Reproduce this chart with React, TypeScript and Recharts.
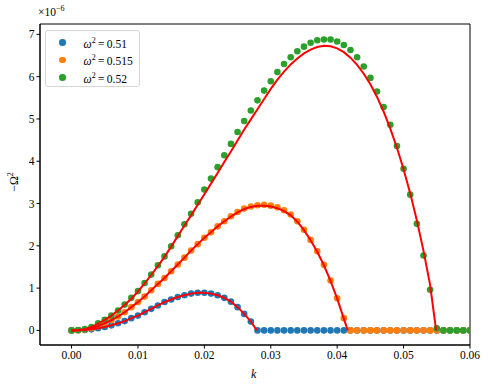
import {
  ComposedChart,
  Scatter,
  XAxis,
  YAxis,
  ReferenceArea,
} from "recharts";

// k grid (step 0.001)
const kGrid = [
  0, 0.001, 0.002, 0.003, 0.004, 0.005, 0.006, 0.007, 0.008, 0.009,
  0.01, 0.011, 0.012, 0.013, 0.014, 0.015, 0.016, 0.017, 0.018, 0.019,
  0.02, 0.021, 0.022, 0.023, 0.024, 0.025, 0.026, 0.027, 0.028, 0.029,
  0.03, 0.031, 0.032, 0.033, 0.034, 0.035, 0.036, 0.037, 0.038, 0.039,
  0.04, 0.041, 0.042, 0.043, 0.044, 0.045, 0.046, 0.047, 0.048, 0.049,
  0.05, 0.051, 0.052, 0.053, 0.054, 0.055, 0.056, 0.057, 0.058, 0.059,
  0.06,
];

// -Omega^2 (x1e-6), numerical points
const blueVals = [
  0, 0.003, 0.01, 0.025, 0.05, 0.08, 0.12, 0.17, 0.22, 0.29,
  0.35, 0.43, 0.51, 0.59, 0.67, 0.73, 0.79, 0.83, 0.87, 0.89,
  0.89, 0.87, 0.83, 0.77, 0.68, 0.55, 0.39, 0.21, 0, 0,
  0, 0, 0, 0, 0, 0, 0, 0, 0, 0,
  0, 0, 0, 0, 0, 0, 0, 0, 0, 0,
  0, 0, 0, 0, 0, 0, 0, 0, 0, 0,
  0,
];
const orangeVals = [
  0, 0.005, 0.02, 0.05, 0.1, 0.17, 0.24, 0.33, 0.43, 0.55,
  0.67, 0.8, 0.95, 1.1, 1.24, 1.4, 1.56, 1.72, 1.89, 2.04,
  2.19, 2.32, 2.46, 2.58, 2.7, 2.8, 2.88, 2.93, 2.96, 2.97,
  2.95, 2.91, 2.84, 2.74, 2.58, 2.38, 2.14, 1.87, 1.55, 1.18,
  0.76, 0.29, 0, 0, 0, 0, 0, 0, 0, 0,
  0, 0, 0, 0, 0, 0, 0, 0, 0, 0,
  0,
];
const greenVals = [
  0, 0.01, 0.03, 0.08, 0.17, 0.25, 0.35, 0.47, 0.61, 0.77,
  0.93, 1.12, 1.32, 1.54, 1.75, 1.99, 2.25, 2.51, 2.76, 3.03,
  3.33, 3.59, 3.86, 4.14, 4.41, 4.69, 4.95, 5.2, 5.44, 5.67,
  5.89, 6.11, 6.3, 6.46, 6.6, 6.71, 6.8, 6.86, 6.88, 6.88,
  6.83, 6.75, 6.63, 6.46, 6.24, 5.97, 5.65, 5.28, 4.86, 4.36,
  3.82, 3.21, 2.52, 1.77, 0.96, 0.05, 0, 0, 0, 0,
  0,
];

// analytic curves (red), on the same grid up to where they hit zero
const blueFit = [
  0, 0.003, 0.01, 0.025, 0.05, 0.08, 0.12, 0.17, 0.22, 0.29,
  0.35, 0.43, 0.51, 0.59, 0.67, 0.73, 0.79, 0.83, 0.87, 0.89,
  0.89, 0.87, 0.83, 0.77, 0.68, 0.55, 0.39, 0.21,
];
const blueFitEnd = 0.0279;
const orangeFit = [
  0, 0.005, 0.02, 0.05, 0.1, 0.17, 0.24, 0.33, 0.43, 0.55,
  0.67, 0.8, 0.95, 1.1, 1.24, 1.4, 1.56, 1.72, 1.89, 2.04,
  2.19, 2.32, 2.46, 2.58, 2.69, 2.79, 2.87, 2.92, 2.95, 2.95,
  2.93, 2.89, 2.82, 2.72, 2.57, 2.37, 2.13, 1.86, 1.54, 1.17,
  0.75, 0.28,
];
const orangeFitEnd = 0.0416;
const greenFit = [
  0, 0.01, 0.03, 0.08, 0.16, 0.25, 0.35, 0.47, 0.6, 0.75,
  0.92, 1.11, 1.31, 1.52, 1.74, 1.98, 2.23, 2.48, 2.72, 2.97,
  3.22, 3.47, 3.72, 3.98, 4.23, 4.49, 4.75, 4.99, 5.23, 5.47,
  5.71, 5.93, 6.12, 6.29, 6.43, 6.55, 6.64, 6.7, 6.73, 6.72,
  6.67, 6.58, 6.45, 6.28, 6.07, 5.82, 5.52, 5.17, 4.77, 4.32,
  3.81, 3.24, 2.6, 1.88, 1.07,
];
const greenFitEnd = 0.0549;

const xTicks = [0, 0.01, 0.02, 0.03, 0.04, 0.05, 0.06];
const yTicks = [0, 1, 2, 3, 4, 5, 6, 7];
const xDomain = [-0.00475, 0.06];
const yDomain = [-0.345, 7.245];

const series = [
  { label: "0.51", color: "#1f77b4", vals: blueVals },
  { label: "0.515", color: "#ff7f0e", vals: orangeVals },
  { label: "0.52", color: "#2ca02c", vals: greenVals },
];

const fits = [
  { vals: blueFit, end: blueFitEnd },
  { vals: orangeFit, end: orangeFitEnd },
  { vals: greenFit, end: greenFitEnd },
];

const toPoints = (vals: number[]) => vals.map((v, i) => ({ k: kGrid[i], v }));
const toFit = (vals: number[], end: number) =>
  toPoints(vals).concat([{ k: end, v: 0 }]);

const FONT = "'Liberation Serif', 'Times New Roman', serif";
const tickStyle = { fill: "#000", fontSize: 11.5, fontFamily: FONT };

const Dot = (color: string) => (p: any) =>
  <circle cx={p.cx} cy={p.cy} r={3.3} fill={color} />;

const NoDot = () => <g />;

const App = () => {
  return (
    <div
      style={{
        position: "absolute",
        left: 0,
        top: 0,
        width: 489,
        height: 389,
        background: "#fff",
        fontFamily: FONT,
      }}
    >
      <ComposedChart
        width={489}
        height={389}
        margin={{ top: 24, right: 19, bottom: 0, left: 0 }}
        style={{ fontFamily: FONT }}
      >
        <XAxis
          dataKey="k"
          type="number"
          domain={xDomain}
          ticks={xTicks}
          allowDataOverflow
          tickFormatter={(v: number) => v.toFixed(2)}
          tick={tickStyle}
          tickSize={3.5}
          tickLine={{ stroke: "#000" }}
          axisLine={{ stroke: "#000" }}
          height={44}
        />
        <YAxis
          type="number"
          domain={yDomain}
          ticks={yTicks}
          allowDataOverflow
          tick={tickStyle}
          tickSize={3.5}
          tickLine={{ stroke: "#000" }}
          axisLine={{ stroke: "#000" }}
          width={40}
        />
        {series.map((s) => (
          <Scatter
            key={s.label}
            data={toPoints(s.vals)}
            dataKey="v"
            fill={s.color}
            shape={Dot(s.color)}
            isAnimationActive={false}
          />
        ))}
        {/* red analytic curves, drawn over the points */}
        {fits.map((f, i) => (
          <Scatter
            key={"fit" + i}
            data={toFit(f.vals, f.end)}
            dataKey="v"
            fill="#ff0000"
            line={{ stroke: "#ff0000", strokeWidth: 2, fill: "none" }}
            lineType="joint"
            shape={NoDot}
            isAnimationActive={false}
          />
        ))}
        <ReferenceArea
          x1={xDomain[0]}
          x2={xDomain[1]}
          y1={yDomain[0]}
          y2={yDomain[1]}
          fill="none"
          fillOpacity={0}
          stroke="#000"
          strokeWidth={1}
        />
      </ComposedChart>

      {/* offset text */}
      <div style={{ position: "absolute", left: 38, top: 4, fontSize: 11.5 }}>
        ×10<sup style={{ fontSize: 8 }}>−6</sup>
      </div>

      {/* y label */}
      <div
        style={{
          position: "absolute",
          left: 14,
          top: 182,
          fontSize: 12,
          transform: "translate(-50%, -50%) rotate(-90deg)",
          whiteSpace: "nowrap",
        }}
      >
        −Ω<sup style={{ fontSize: 8 }}>2</sup>
      </div>

      {/* x label */}
      <div
        style={{
          position: "absolute",
          left: 251,
          top: 367,
          fontSize: 12,
          fontStyle: "italic",
        }}
      >
        k
      </div>

      {/* legend */}
      <div
        style={{
          position: "absolute",
          left: 45,
          top: 30,
          width: 95,
          height: 57,
          border: "1px solid #d6d6d6",
          borderRadius: 3,
          background: "rgba(255,255,255,0.8)",
          boxSizing: "border-box",
        }}
      >
        {series.map((s, i) => (
          <div
            key={s.label}
            style={{
              position: "absolute",
              left: 0,
              top: 3 + i * 17.5,
              height: 17,
              display: "flex",
              alignItems: "center",
              fontSize: 11.5,
              whiteSpace: "nowrap",
            }}
          >
            <span
              style={{
                display: "inline-block",
                width: 6.6,
                height: 6.6,
                borderRadius: "50%",
                background: s.color,
                marginLeft: 13,
                marginRight: 18,
              }}
            />
            <span>
              <i>ω</i>
              <sup style={{ fontSize: 8 }}>2</sup>
              {"\u2009=\u2009" + s.label}
            </span>
          </div>
        ))}
      </div>
    </div>
  );
};

export default App;
